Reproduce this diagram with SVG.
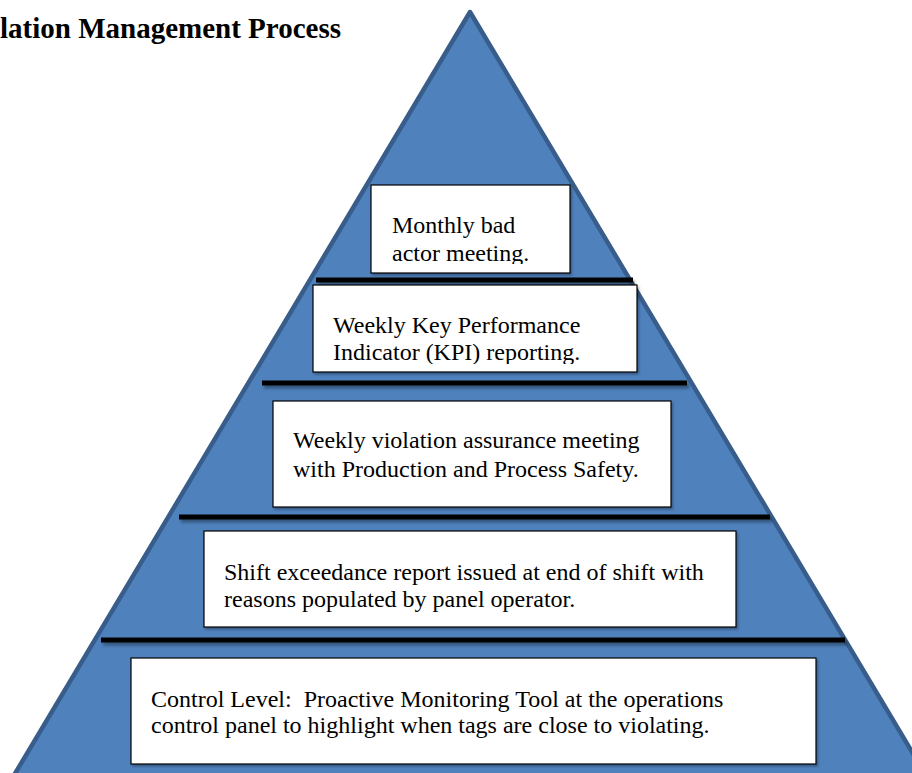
<svg xmlns="http://www.w3.org/2000/svg" width="912" height="773" viewBox="0 0 912 773">
  <style>
    .box { fill: #ffffff; stroke: #000000; stroke-width: 1.2; }
    .lbl { font-family: "Liberation Serif", "Times New Roman", serif; font-size: 24px; fill: #000000; white-space: pre; }
    .title { font-family: "Liberation Serif", "Times New Roman", serif; font-size: 29px; font-weight: bold; fill: #000000; }
    .div { stroke: #000000; stroke-width: 5; }
  </style>
  <defs>
    <filter id="sh" x="-5%" y="-50%" width="110%" height="300%">
      <feDropShadow dx="2" dy="3" stdDeviation="1.5" flood-color="#000000" flood-opacity="0.35"/>
    </filter>
    <filter id="bsh" x="-5%" y="-10%" width="110%" height="120%">
      <feDropShadow dx="1.5" dy="2" stdDeviation="1.2" flood-color="#000000" flood-opacity="0.3"/>
    </filter>
    <clipPath id="c1"><rect x="371" y="185" width="199" height="79"/></clipPath>
    <clipPath id="c2"><rect x="313" y="285" width="324" height="79"/></clipPath>
  </defs>
  <rect width="912" height="773" fill="#ffffff"/>

  <g id="title">
    <text class="title" x="341" y="38" text-anchor="end">lation Management Process</text>
  </g>

  <g id="pyramid">
    <polygon points="470,12 -2,802 942,802" fill="#4f81bd" stroke="#385d8a" stroke-width="4.5" stroke-linejoin="round"/>
  </g>

  <g id="dividers" filter="url(#sh)">
    <line class="div" x1="316" y1="280" x2="633" y2="280"/>
    <line class="div" x1="262" y1="383" x2="687" y2="383"/>
    <line class="div" x1="179" y1="517" x2="770" y2="517"/>
    <line class="div" x1="101" y1="640" x2="845" y2="640"/>
  </g>

  <g id="level5-monthly">
    <rect class="box" x="371" y="185" width="199" height="88" filter="url(#bsh)"/>
    <g clip-path="url(#c1)">
      <text class="lbl" x="392" y="233">Monthly bad</text>
      <text class="lbl" x="392" y="261">actor meeting.</text>
    </g>
  </g>

  <g id="level4-kpi">
    <rect class="box" x="313" y="285" width="324" height="87" filter="url(#bsh)"/>
    <g clip-path="url(#c2)">
      <text class="lbl" x="333" y="333">Weekly Key Performance</text>
      <text class="lbl" x="333" y="360">Indicator (KPI) reporting.</text>
    </g>
  </g>

  <g id="level3-assurance">
    <rect class="box" x="273" y="401" width="398" height="106" filter="url(#bsh)"/>
    <text class="lbl" x="293" y="448">Weekly violation assurance meeting</text>
    <text class="lbl" x="293" y="477">with Production and Process Safety.</text>
  </g>

  <g id="level2-shift">
    <rect class="box" x="204" y="531" width="532" height="96" filter="url(#bsh)"/>
    <text class="lbl" x="224" y="580">Shift exceedance report issued at end of shift with</text>
    <text class="lbl" x="224" y="607">reasons populated by panel operator.</text>
  </g>

  <g id="level1-control">
    <rect class="box" x="131" y="658" width="685" height="106" filter="url(#bsh)"/>
    <text class="lbl" x="151" y="707">Control Level:  Proactive Monitoring Tool at the operations</text>
    <text class="lbl" x="151" y="733">control panel to highlight when tags are close to violating.</text>
  </g>
</svg>
